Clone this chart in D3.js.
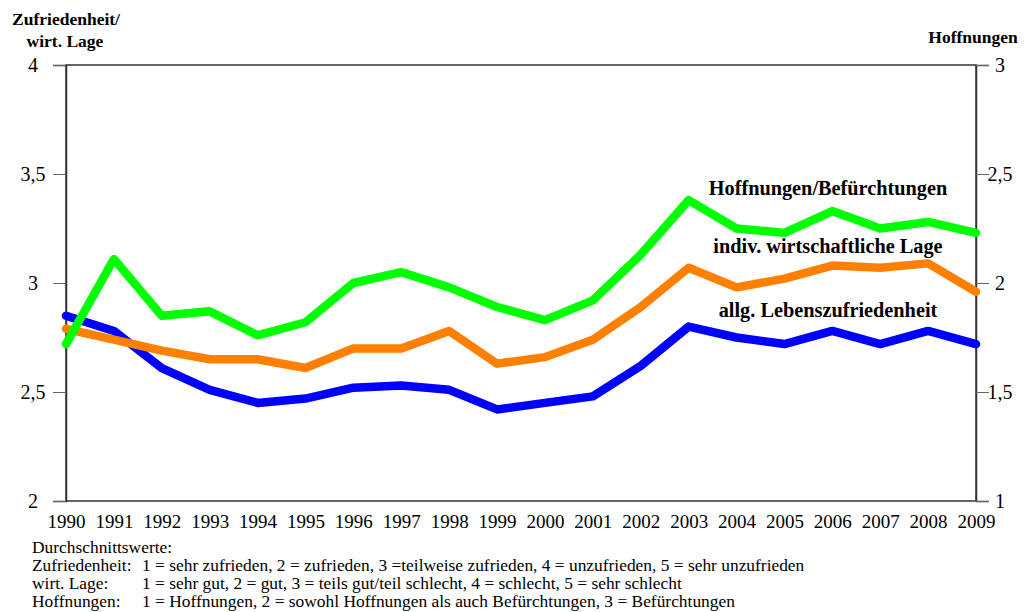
<!DOCTYPE html>
<html>
<head>
<meta charset="utf-8">
<script src="https://cdn.jsdelivr.net/npm/d3@7"></script>
<style>
  body { margin: 0; background: #fff; }
  svg text { font-family: "Liberation Serif", "Times New Roman", serif; }
</style>
</head>
<body>
<svg width="1030" height="612"></svg>
<script>
var years = [1990, 1991, 1992, 1993, 1994, 1995, 1996, 1997, 1998, 1999,
             2000, 2001, 2002, 2003, 2004, 2005, 2006, 2007, 2008, 2009];

// right axis (1 - 3)
var hoffnungen = [1.72, 2.11, 1.85, 1.87, 1.76, 1.82, 2.00, 2.05, 1.98, 1.89,
                  1.83, 1.92, 2.13, 2.38, 2.25, 2.23, 2.33, 2.25, 2.28, 2.23];
// left axis (2 - 4)
var wirtLage = [2.79, 2.74, 2.69, 2.65, 2.65, 2.61, 2.70, 2.70, 2.78, 2.63,
                2.66, 2.74, 2.89, 3.07, 2.98, 3.02, 3.08, 3.07, 3.09, 2.96];
var zufriedenheit = [2.85, 2.78, 2.61, 2.51, 2.45, 2.47, 2.52, 2.53, 2.51, 2.42,
                     2.45, 2.48, 2.62, 2.80, 2.75, 2.72, 2.78, 2.72, 2.78, 2.72];

var leftTicks = [2, 2.5, 3, 3.5, 4];
var rightTicks = [1, 1.5, 2, 2.5, 3];

var lineLabels = ["Hoffnungen/Befürchtungen", "indiv. wirtschaftliche Lage", "allg. Lebenszufriedenheit"];
var noteRows = [
  ["Zufriedenheit:", "1 = sehr zufrieden, 2 = zufrieden, 3 =teilweise zufrieden, 4 = unzufrieden, 5 = sehr unzufrieden"],
  ["wirt. Lage:", "1 = sehr gut, 2 = gut, 3 = teils gut/teil schlecht, 4 = schlecht, 5 = sehr schlecht"],
  ["Hoffnungen:", "1 = Hoffnungen, 2 = sowohl Hoffnungen als auch Befürchtungen, 3 = Befürchtungen"]
];

var svg = d3.select("svg");
var plotL = 66, plotR = 976, plotT = 65, plotB = 501;
var serif = "Liberation Serif";

var x = d3.scaleLinear().domain([1990, 2009]).range([plotL, plotR]);
var yL = d3.scaleLinear().domain([2, 4]).range([plotB, plotT]);
var yR = d3.scaleLinear().domain([1, 3]).range([plotB, plotT]);

var fmt = function(d) { return String(d).replace(".", ","); };

// frame
svg.append("rect")
    .attr("x", plotL).attr("y", plotT)
    .attr("width", plotR - plotL).attr("height", plotB - plotT)
    .attr("fill", "none")
    .attr("stroke", "#333")
    .attr("stroke-width", 1.5);

var gL = svg.append("g")
    .attr("transform", "translate(" + plotL + ",0)")
    .call(d3.axisLeft(yL).tickValues(leftTicks).tickSize(13).tickFormat(fmt))
    .attr("font-family", serif);
gL.select(".domain").attr("stroke", "#333").attr("stroke-width", 1.5);
gL.selectAll(".tick line").attr("stroke", "#666");
gL.selectAll(".tick text")
    .attr("x", -33).attr("text-anchor", "middle")
    .attr("font-size", 20).attr("fill", "#000");

var gR = svg.append("g")
    .attr("transform", "translate(" + plotR + ",0)")
    .call(d3.axisRight(yR).tickValues(rightTicks).tickSize(13).tickFormat(fmt))
    .attr("font-family", serif);
gR.select(".domain").attr("stroke", "#333").attr("stroke-width", 1.5);
gR.selectAll(".tick line").attr("stroke", "#666");
gR.selectAll(".tick text")
    .attr("x", 24).attr("text-anchor", "middle")
    .attr("font-size", 20).attr("fill", "#000");

var gX = svg.append("g")
    .attr("transform", "translate(0," + plotB + ")")
    .call(d3.axisBottom(x).tickValues(years).tickSize(0).tickPadding(14).tickFormat(d3.format("d")))
    .attr("font-family", serif);
gX.select(".domain").remove();
gX.selectAll(".tick text")
    .attr("font-size", 19).attr("fill", "#000");

// axis titles
var titles = svg.append("g")
    .attr("font-family", serif)
    .attr("font-weight", "bold")
    .attr("font-size", 17.5)
    .attr("text-anchor", "middle");
titles.append("text").attr("x", 66).attr("y", 25).text("Zufriedenheit/");
titles.append("text").attr("x", 65).attr("y", 47).text("wirt. Lage");
titles.append("text").attr("x", 973).attr("y", 43).text("Hoffnungen");

// lines
var series = [
  { values: zufriedenheit, scale: yL, color: "#0000ff" },
  { values: wirtLage, scale: yL, color: "#ff8000" },
  { values: hoffnungen, scale: yR, color: "#00ff00" }
];

series.forEach(function(s) {
  var line = d3.line()
      .x(function(d, i) { return x(years[i]); })
      .y(function(d) { return s.scale(d); });
  svg.append("path")
      .datum(s.values)
      .attr("fill", "none")
      .attr("stroke", s.color)
      .attr("stroke-width", 8.5)
      .attr("stroke-linejoin", "round")
      .attr("stroke-linecap", "round")
      .attr("d", line);
});

// line labels
svg.append("g")
    .attr("font-family", serif)
  .selectAll("text")
  .data(lineLabels)
  .enter().append("text")
    .attr("x", 828)
    .attr("y", function(d, i) { return [195, 253, 317][i]; })
    .attr("text-anchor", "middle")
    .attr("font-weight", "bold")
    .attr("font-size", 20.3)
    .text(function(d) { return d; });

// footnote
var note = svg.append("g")
    .attr("font-family", serif)
    .attr("font-size", 17.4);
note.append("text")
    .attr("x", 32).attr("y", 553)
    .text("Durchschnittswerte:");

var rows = note.selectAll(".note")
  .data(noteRows)
  .enter().append("g")
    .attr("class", "note")
    .attr("transform", function(d, i) { return "translate(0," + (571 + i * 18) + ")"; });
rows.append("text")
    .attr("x", 32)
    .text(function(d) { return d[0]; });
rows.append("text")
    .attr("x", 142)
    .text(function(d) { return d[1]; });
</script>
</body>
</html>
